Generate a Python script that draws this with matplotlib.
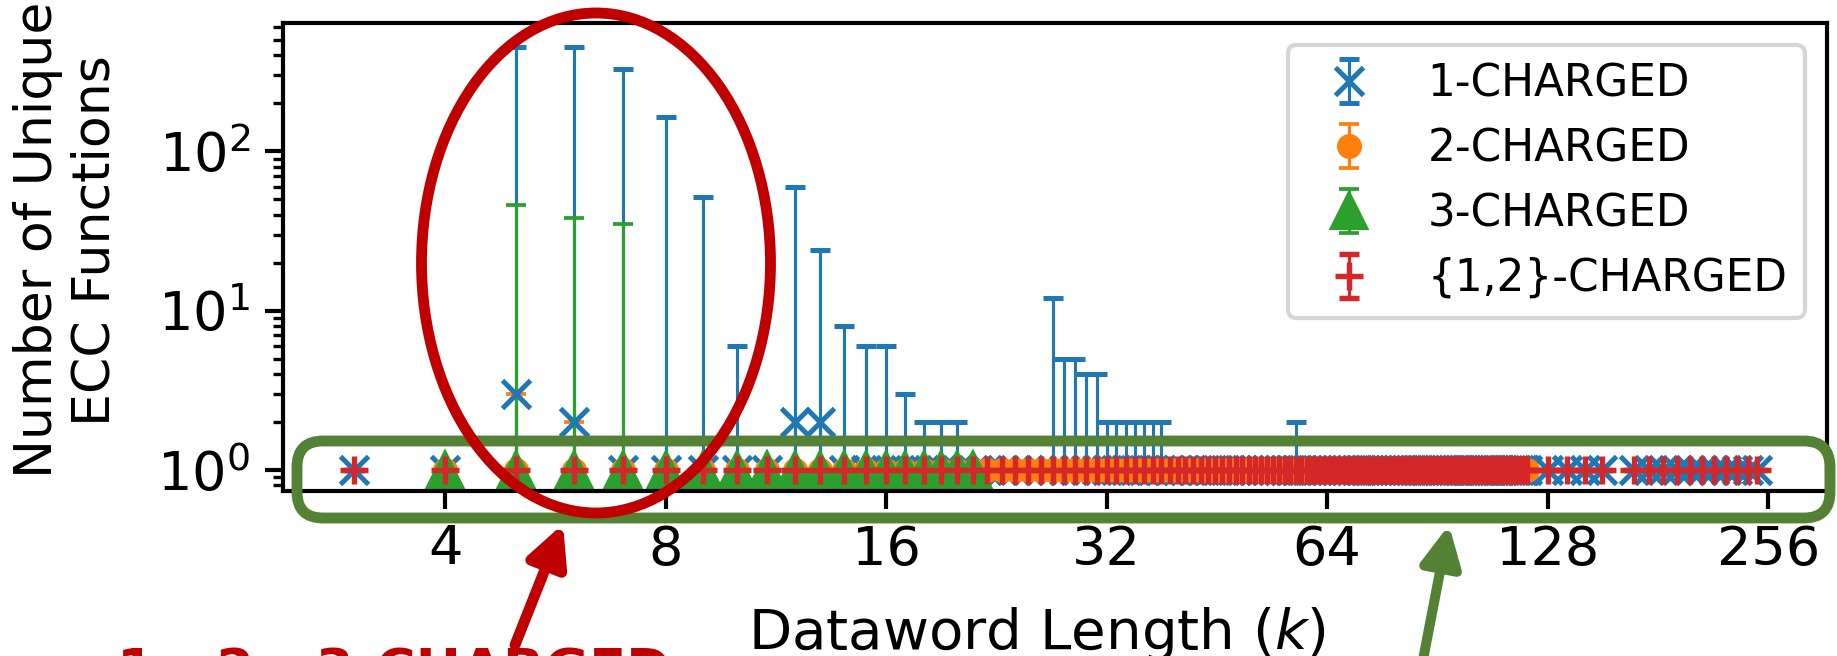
import matplotlib
matplotlib.use('Agg')
import matplotlib.pyplot as plt
from matplotlib.patches import Ellipse, FancyBboxPatch, FancyArrowPatch
from matplotlib.transforms import IdentityTransform
from matplotlib.ticker import FixedLocator, FixedFormatter, NullLocator

W, H, DPI = 1837, 656, 300

# dataword lengths (k) that were tested
k_dense = list(range(3, 121))
k_sparse = [128, 136, 144, 152, 168, 176, 184, 192, 200, 208, 216, 224, 232, 240, 247]

# 1-CHARGED: mean is 1 except where listed, max is the mean except where listed
one_k = k_dense + k_sparse
one_mean = {5: 3, 6: 2, 12: 2, 13: 2}
one_max = {5: 450, 6: 450, 7: 330, 8: 165, 9: 52, 10: 6, 12: 60, 13: 24, 14: 8,
           15: 6, 16: 6, 17: 3, 18: 2, 19: 2, 20: 2, 27: 12, 28: 5, 29: 5, 30: 4,
           31: 4, 32: 2, 33: 2, 34: 2, 35: 2, 36: 2, 37: 2, 38: 2, 58: 2}

# 2-CHARGED
two_k = list(range(4, 121))
two_mean = {}
two_max = {5: 3, 6: 2}

# 3-CHARGED
three_k = list(range(4, 22))
three_mean = {}
three_max = {5: 46, 6: 38, 7: 35}

# {1,2}-CHARGED
onetwo_k = k_dense + k_sparse
onetwo_mean = {}
onetwo_max = {}

x_ticks = [4, 8, 16, 32, 64, 128, 256]
x_tick_labels = ['4', '8', '16', '32', '64', '128', '256']


def series(ks, means, maxes):
    y = [means.get(k, 1) for k in ks]
    lo = [m - 1 for m in y]
    hi = [maxes.get(k, m) - m for k, m in zip(ks, y)]
    return y, [lo, hi]


fig = plt.figure(figsize=(W / DPI, H / DPI), dpi=DPI)
ax = fig.add_axes([283 / W, 1 - 491 / H, (1827 - 283) / W, (491 - 23) / H])

common = dict(linestyle='none', elinewidth=0.75, capsize=2.5, capthick=0.9)

y, err = series(one_k, one_mean, one_max)
ax.errorbar(one_k, y, yerr=err, fmt='x', color='tab:blue', ms=6.8, mew=1.2,
            label='1-CHARGED', **common)
y, err = series(two_k, two_mean, two_max)
ax.errorbar(two_k, y, yerr=err, fmt='o', color='tab:orange', ms=5,
            label='2-CHARGED', **common)
y, err = series(three_k, three_mean, three_max)
ax.errorbar(three_k, y, yerr=err, fmt='^', color='tab:green', ms=8,
            label='3-CHARGED', **common)
y, err = series(onetwo_k, onetwo_mean, onetwo_max)
ax.errorbar(onetwo_k, y, yerr=err, fmt='+', color='tab:red', ms=6.5, mew=1.3,
            label='{1,2}-CHARGED', **common)

ax.set_xscale('log', base=2)
ax.set_yscale('log')
ax.set_xlim(2.403, 308)
ax.set_ylim(0.738, 638)
ax.xaxis.set_major_locator(FixedLocator(x_ticks))
ax.xaxis.set_major_formatter(FixedFormatter(x_tick_labels))
ax.xaxis.set_minor_locator(NullLocator())

for s in ax.spines.values():
    s.set_linewidth(1.0)
ax.tick_params(which='major', length=4.3, width=1.0, labelsize=13)
ax.tick_params(which='minor', length=2.5, width=0.8)

ax.set_xlabel('Dataword Length ($k$)', fontsize=13.5)
ax.set_ylabel('Number of Unique\nECC Functions', fontsize=12.5)
ax.xaxis.set_label_coords(0.488, -0.243)
ax.yaxis.set_label_coords(-0.105, 0.536)

ax.legend(loc='upper right', fontsize=10.5, labelspacing=0.5)

# callouts drawn in output pixels (origin bottom-left)
px = IdentityTransform()
red = '#C00000'
green = '#548235'

fig.add_artist(FancyBboxPatch((297, H - 518), 1830 - 297, 518 - 441,
                              boxstyle='round,pad=0,rounding_size=26',
                              fill=False, edgecolor=green, linewidth=2.6,
                              transform=px))
fig.add_artist(Ellipse((596, H - 263), 349, 500, fill=False, edgecolor=red,
                       linewidth=2.6, transform=px))
fig.add_artist(FancyArrowPatch((515, H - 645), (563, H - 524), arrowstyle='-|>',
                               mutation_scale=20, color=red, linewidth=2.6,
                               shrinkA=0, shrinkB=0, transform=px))
fig.add_artist(FancyArrowPatch((1422, H - 665), (1449, H - 525), arrowstyle='-|>',
                               mutation_scale=20, color=green, linewidth=2.4,
                               shrinkA=0, shrinkB=0, transform=px))
fig.text(117, H - 646, '1-, 2-, 3-CHARGED', color=red, fontsize=13,
         fontweight='bold', ha='left', va='top', transform=px)

fig.savefig('out.png', dpi=DPI)
